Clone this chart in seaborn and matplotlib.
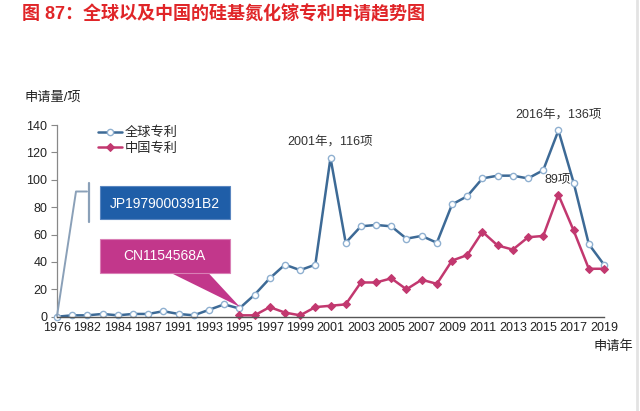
import numpy as np
import pandas as pd
import matplotlib
matplotlib.use("Agg")
import matplotlib.pyplot as plt
import seaborn as sns
from matplotlib.transforms import Affine2D
from matplotlib.patches import Rectangle, Polygon
from matplotlib.lines import Line2D

# ---- data ----
years = ["1976", "1979", "1982", "1983", "1984", "1985", "1987", "1988", "1991",
         "1992", "1993", "1994", "1995", "1996", "1997", "1998", "1999", "2000",
         "2001", "2002", "2003", "2004", "2005", "2006", "2007", "2008", "2009",
         "2010", "2011", "2012", "2013", "2014", "2015", "2016", "2017", "2018", "2019"]

global_patents = [0, 1, 1, 2, 1, 2, 2, 4, 2,
                  1, 5, 9, 6, 16, 28, 38, 34, 38,
                  116, 54, 66, 67, 66, 57, 59, 54, 82,
                  88, 101, 103, 103, 101, 107, 136, 98, 53, 38]

china_years = years[12:]
china_patents = [1, 1, 7, 3, 1, 7,
                 8, 9, 25, 25, 28, 20, 27, 24, 41,
                 45, 62, 52, 49, 58, 59, 89, 63, 35, 35]

tick_labels = years[::2]

df = pd.DataFrame({"year": years, "pos": np.arange(len(years)), "global": global_patents})
df["china"] = df["year"].map(dict(zip(china_years, china_patents)))

# ---- style ----
sns.set_style("white")
plt.rcParams["font.family"] = ["Liberation Sans", "Noto Sans CJK SC", "DejaVu Sans"]

fig = plt.figure(figsize=(6.4, 4.11), dpi=100)
px = Affine2D().scale(1 / 640, -1 / 411).translate(0, 1) + fig.transFigure

ax = fig.add_axes([57 / 640, 1 - 316.7 / 411, (604 - 57) / 640, (316.7 - 125) / 411])

sns.lineplot(data=df, x="pos", y="global", ax=ax, color="#3d6a96", lw=1.8,
             marker="o", markersize=4.5, markerfacecolor="white",
             markeredgecolor="#8fb0d0", markeredgewidth=1.0,
             label="全球专利", clip_on=False)
sns.lineplot(data=df.dropna(subset=["china"]), x="pos", y="china", ax=ax,
             color="#c2386f", lw=1.8, marker="D", markersize=3.8,
             markeredgecolor="#c2386f", label="中国专利", clip_on=False)

ax.set_xlim(0, len(years) - 1)
ax.set_ylim(0, 140)
ax.set_xticks(np.arange(0, len(years), 2))
ax.set_xticklabels(tick_labels, fontsize=9, color="#222222")
ax.set_yticks(np.arange(0, 141, 20))
ax.tick_params(axis="y", labelsize=9, colors="#222222", length=4, width=0.8,
               direction="out", left=True, pad=3)
ax.tick_params(axis="y", color="#888888")
ax.tick_params(axis="x", length=0, pad=4)
ax.set_xlabel("")
ax.set_ylabel("")

for s in ["top", "right"]:
    ax.spines[s].set_visible(False)
ax.spines["left"].set_color("#888888")
ax.spines["left"].set_linewidth(0.9)
ax.spines["bottom"].set_color("#555555")
ax.spines["bottom"].set_linewidth(1.0)

leg = ax.legend(loc="upper left", bbox_to_anchor=(98 / 640, 1 - 127 / 411),
                bbox_transform=fig.transFigure, frameon=False, fontsize=9.5,
                handlelength=1.8, handletextpad=0.2, labelspacing=0.2,
                borderaxespad=0, borderpad=0)

# ---- annotations ----
ax.text(330, 141.7, "2001年，116项", transform=px, ha="center", va="center",
        fontsize=9, color="#333333")
ax.text(559, 114.3, "2016年，136项", transform=px, ha="center", va="center",
        fontsize=9, color="#333333")
ax.text(558, 179.3, "89项", transform=px, ha="center", va="center",
        fontsize=9, color="#333333")

fig.text(25, 98, "申请量/项", transform=px, ha="left", va="center", fontsize=9.5,
         color="#222222")
fig.text(613, 347, "申请年", transform=px, ha="center", va="center", fontsize=9.5,
         color="#222222")

fig.text(22, 14, "图 87：全球以及中国的硅基氮化镓专利申请趋势图", transform=px,
         ha="left", va="center", fontsize=13, color="#e02528", weight="bold")

# JP callout
fig.add_artist(Line2D([57, 76, 87], [316, 191.5, 191.5], transform=px,
                      color="#8aa0b8", lw=1.4))
fig.add_artist(Line2D([88.5, 88.5], [183, 222], transform=px,
                      color="#8aa0b8", lw=1.6))
fig.add_artist(Rectangle((99.5, 186.5), 130.5, 33, transform=px,
                         facecolor="#1f5ea8", edgecolor="#5a86c0", lw=0.8))
fig.text(164.7, 203.5, "JP1979000391B2", transform=px, ha="center", va="center",
         fontsize=10, color="white")

# CN callout
fig.add_artist(Polygon([[170, 272.5], [208, 272.5], [240, 307]], closed=True,
                       transform=px, facecolor="#c2378b", edgecolor="none"))
fig.add_artist(Rectangle((99.5, 239), 130.5, 34, transform=px,
                         facecolor="#c2378b", edgecolor="#d97fb5", lw=0.8))
fig.text(164.7, 256, "CN1154568A", transform=px, ha="center", va="center",
         fontsize=10, color="white")

# right edge strip
fig.add_artist(Line2D([637, 637], [0, 411], transform=px, color="#e3e3e3", lw=2))

fig.savefig("out.png", dpi=100)
